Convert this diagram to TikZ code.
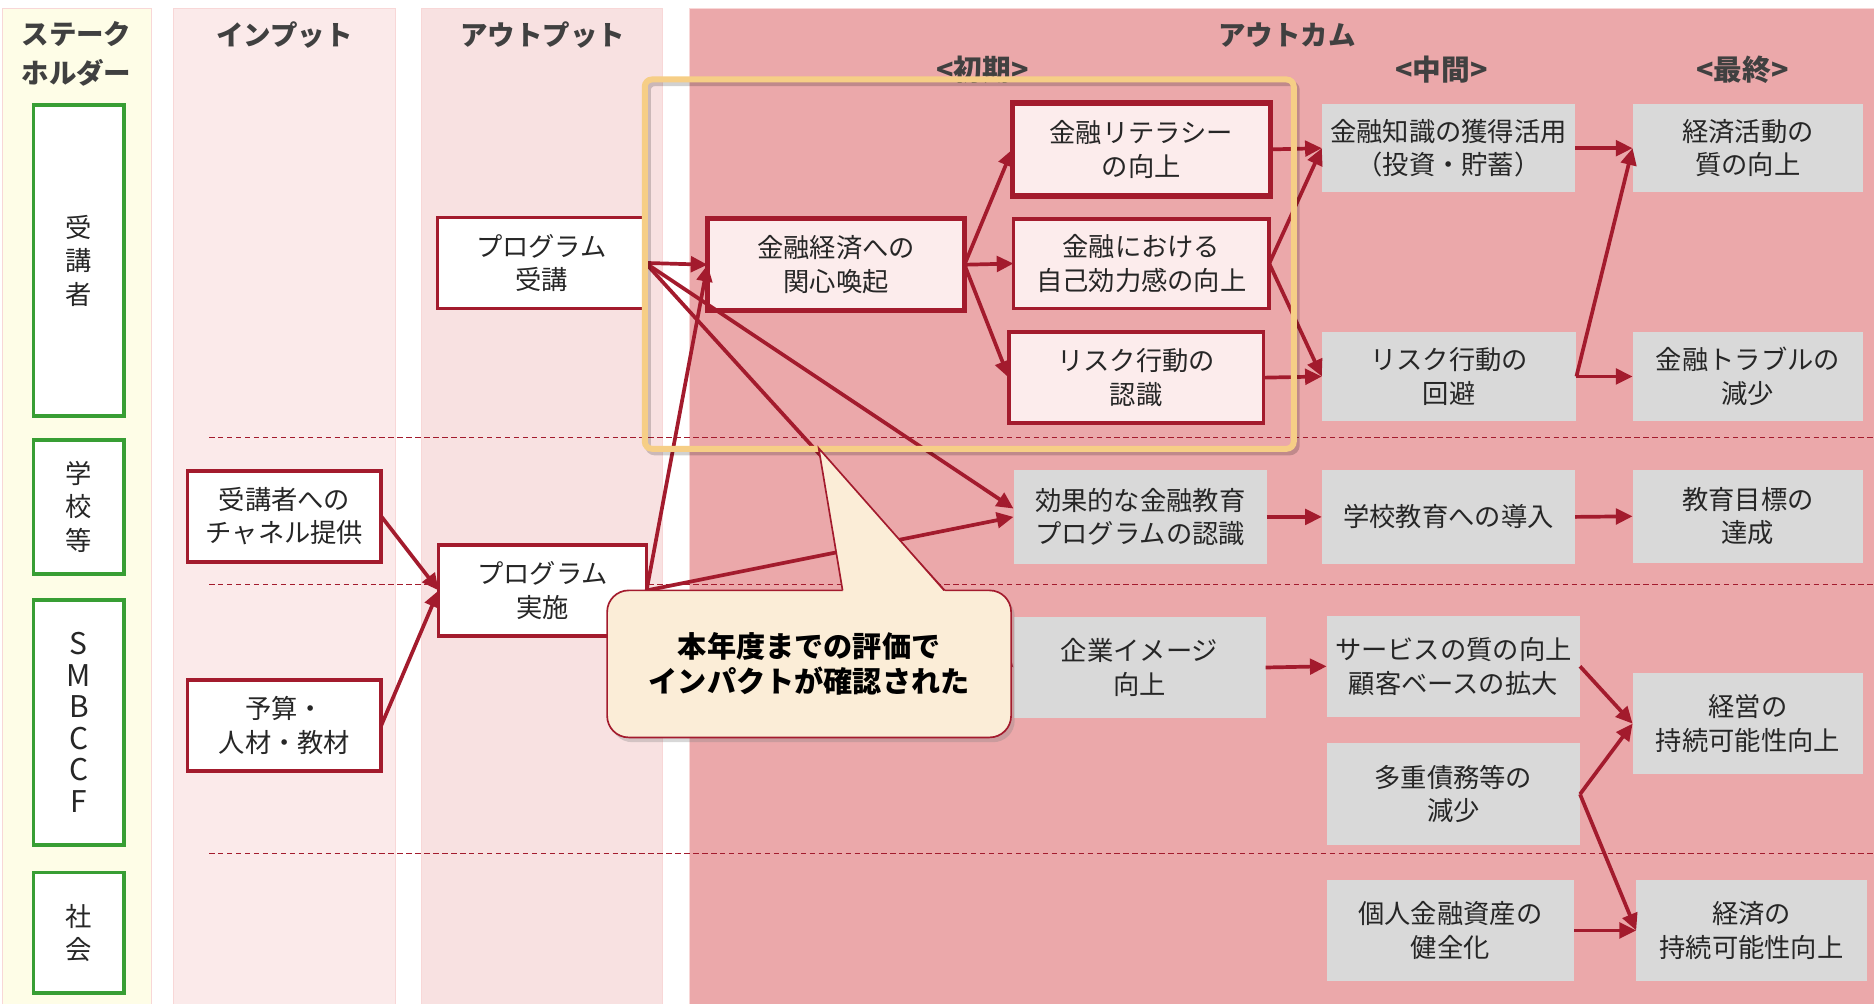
\documentclass[tikz,border=0pt]{standalone}
\usepackage{fontspec}
\setmainfont{Noto Sans CJK JP}
\usetikzlibrary{arrows.meta,calc,shadows}
\definecolor{dred}{RGB}{163,27,45}
\definecolor{sgreen}{RGB}{56,158,52}
\definecolor{gbox}{RGB}{217,217,217}
\definecolor{outbg}{RGB}{235,168,170}
\definecolor{opbg}{RGB}{248,225,225}
\definecolor{inbg}{RGB}{251,234,234}
\definecolor{shbg}{RGB}{254,253,231}
\definecolor{colline}{RGB}{248,215,215}
\definecolor{hlyel}{RGB}{246,206,134}
\definecolor{initfill}{RGB}{252,236,236}
\definecolor{callfill}{RGB}{251,237,215}
\definecolor{txt}{RGB}{38,38,38}
\definecolor{hdr}{RGB}{64,64,64}
\begin{document}
\begin{tikzpicture}[x=0.5pt,y=-0.5pt,
  bx/.style={inner sep=0pt,outer sep=0pt,align=center,text=txt,font=\fontsize{11pt}{14pt}\selectfont},
  shbox/.style={bx,draw=sgreen,line width=1.6pt,fill=white,minimum width=38pt},
  wbox/.style={bx,draw=dred,line width=1.5pt,fill=white},
  ibox/.style={bx,draw=dred,line width=1.5pt,fill=initfill},
  ithick/.style={ibox,line width=2.3pt},
  gbx/.style={bx,fill=gbox},
  hd/.style={text=hdr,font=\bfseries\fontsize{11.5pt}{16pt}\selectfont,align=center,inner sep=0pt},
  subhd/.style={text=hdr,font=\bfseries\fontsize{12pt}{14pt}\selectfont,inner sep=0pt},
  arr/.style={draw=dred,line width=1.55pt,-{Triangle[length=7pt,width=6.5pt]}},
  rowline/.style={draw=dred,line width=0.6pt,dash pattern=on 2.25pt off 1.5pt},
]
\useasboundingbox (0,0) rectangle (1568,840);
\fill[white] (0,0) rectangle (1568,840);
% columns
\filldraw[fill=shbg,draw=colline,line width=0.5pt] (2,7) rectangle (127,845);
\filldraw[fill=inbg,draw=colline,line width=0.5pt] (145,7) rectangle (331,845);
\filldraw[fill=opbg,draw=colline,line width=0.5pt] (353,7) rectangle (554,845);
\filldraw[fill=outbg,draw=colline,line width=0.5pt] (577,7) rectangle (1572,845);
% headers
\node[hd] (hsh) at (64,45) {ステーク\\ホルダー};
\node[hd] (hin) at (238,29) {インプット};
\node[hd] (hout) at (454,29) {アウトプット};
\node[hd] (hoc) at (1077,29) {アウトカム};
\node[subhd] (hs1) at (822,58) {<初期>};
\node[subhd] (hs2) at (1206,58) {<中間>};
\node[subhd] (hs3) at (1458,58) {<最終>};
% row separators
\draw[rowline] (175,366) -- (1568,366);
\draw[rowline] (175,489) -- (1568,489);
\draw[rowline] (175,714) -- (1568,714);
% stakeholders
\node[shbox,minimum height=130pt] (sh1) at (66,218) {受\\講\\者};
\node[shbox,minimum height=56pt] (sh2) at (66,424) {学\\校\\等};
\node[shbox,minimum height=102.5pt,font=\fontsize{12.5pt}{13.2pt}\selectfont] (sh3) at (66,604.5) {S\\M\\B\\C\\C\\F};
\node[shbox,minimum height=50.5pt] (sh4) at (66,780.5) {社\\会};
% inputs / outputs
\node[wbox,minimum width=81pt,minimum height=38pt] (in1) at (238,432) {受講者への\\チャネル提供};
\node[wbox,minimum width=81pt,minimum height=38pt] (in2) at (238,607) {予算・\\人材・教材};
\node[wbox,minimum width=87pt,minimum height=38pt] (out1) at (453,220) {プログラム\\受講};
\node[wbox,minimum width=87pt,minimum height=38pt] (out2) at (454,494) {プログラム\\実施};
% initial outcomes
\node[ithick,minimum width=107.5pt,minimum height=38.5pt] (i1) at (699.5,221.5) {金融経済への\\関心喚起};
\node[ithick,minimum width=108pt,minimum height=39pt] (i2) at (955,125) {金融リテラシー\\の向上};
\node[ibox,minimum width=107pt,minimum height=37.5pt] (i3) at (955,220.5) {金融における\\自己効力感の向上};
\node[ibox,minimum width=106.5pt,minimum height=38pt] (i4) at (950.5,316) {リスク行動の\\認識};
% gray outcomes
\node[gbx,minimum width=106pt,minimum height=37pt] (m1) at (1212,124) {金融知識の獲得活用\\（投資・貯蓄）};
\node[gbx,minimum width=96.5pt,minimum height=37pt] (f1) at (1462.5,124) {経済活動の\\質の向上};
\node[gbx,minimum width=106.5pt,minimum height=37pt] (m2) at (1212.5,315) {リスク行動の\\回避};
\node[gbx,minimum width=96.5pt,minimum height=37pt] (f2) at (1462.5,315) {金融トラブルの\\減少};
\node[gbx,minimum width=106pt,minimum height=39.5pt] (e1) at (954,432.5) {効果的な金融教育\\プログラムの認識};
\node[gbx,minimum width=106pt,minimum height=39.5pt] (m3) at (1212,432.5) {学校教育への導入};
\node[gbx,minimum width=96.5pt,minimum height=39pt] (f3) at (1462.5,432) {教育目標の\\達成};
\node[gbx,minimum width=105.5pt,minimum height=42.5pt] (e2) at (953.5,558.5) {企業イメージ\\向上};
\node[gbx,minimum width=106pt,minimum height=42.5pt] (m4) at (1216,557.5) {サービスの質の向上\\顧客ベースの拡大};
\node[gbx,minimum width=106pt,minimum height=42.5pt] (m5) at (1216,664.5) {多重債務等の\\減少};
\node[gbx,minimum width=96.5pt,minimum height=42.5pt] (f4) at (1462.5,605.5) {経営の\\持続可能性向上};
\node[gbx,minimum width=103.5pt,minimum height=42.5pt] (m6) at (1213.5,778.5) {個人金融資産の\\健全化};
\node[gbx,minimum width=96.5pt,minimum height=42.5pt] (f5) at (1465.5,778.5) {経済の\\持続可能性向上};
% arrows
\draw[arr] (in1.east) -- (out2.west);
\draw[arr] (in2.east) -- (out2.west);
\draw[arr] (out1.east) -- (i1.west);
\draw[arr] (out1.east) -- ($(e1.west)+(0,-7)$);
\draw[arr] (out1.east) -- (e2.west);
\draw[arr] (out2.east) -- (i1.west);
\draw[arr] (out2.east) -- (e1.west);
\draw[arr] (i1.east) -- (i2.west);
\draw[arr] (i1.east) -- (i3.west);
\draw[arr] (i1.east) -- (i4.west);
\draw[arr] (i2.east) -- (m1.west);
\draw[arr] (i3.east) -- (m1.west);
\draw[arr] (i3.east) -- (m2.west);
\draw[arr] (i4.east) -- (m2.west);
\draw[arr] (m1.east) -- (f1.west);
\draw[arr] (m2.east) -- (f1.west);
\draw[arr] (m2.east) -- (f2.west);
\draw[arr] (e1.east) -- (m3.west);
\draw[arr] (m3.east) -- (f3.west);
\draw[arr] (e2.east) -- (m4.west);
\draw[arr] (m4.east) -- (f4.west);
\draw[arr] (m5.east) -- (f4.west);
\draw[arr] (m5.east) -- (f5.west);
\draw[arr] (m6.east) -- (f5.west);
% highlight box
\draw[black,opacity=0.18,line width=2.5pt,rounded corners=3pt] (542,69.5) rectangle (1085,378.5);
\draw[hlyel,line width=2.5pt,rounded corners=3pt] (539.5,66.5) rectangle (1082.5,375.5);
% callout
\node[bx,draw=dred,line width=0.7pt,fill=callfill,rounded corners=9pt,minimum width=169pt,minimum height=61.5pt,
  drop shadow={shadow xshift=1.5pt,shadow yshift=-2pt,opacity=0.3},
  text=black,font=\bfseries\fontsize{12.2pt}{15pt}\selectfont] (call) at (677,555.5) {本年度までの評価で\\インパクトが確認された};
\coordinate (tip) at (685,375);
\fill[callfill] ($(call.north west)+(197.3,1.5)$) -- (tip) -- ($(call.north west)+(283.3,1.5)$) -- cycle;
\draw[dred,line width=0.7pt] ($(call.north west)+(197,0)$) -- (tip) -- ($(call.north west)+(282,0)$);
\end{tikzpicture}
\end{document}
